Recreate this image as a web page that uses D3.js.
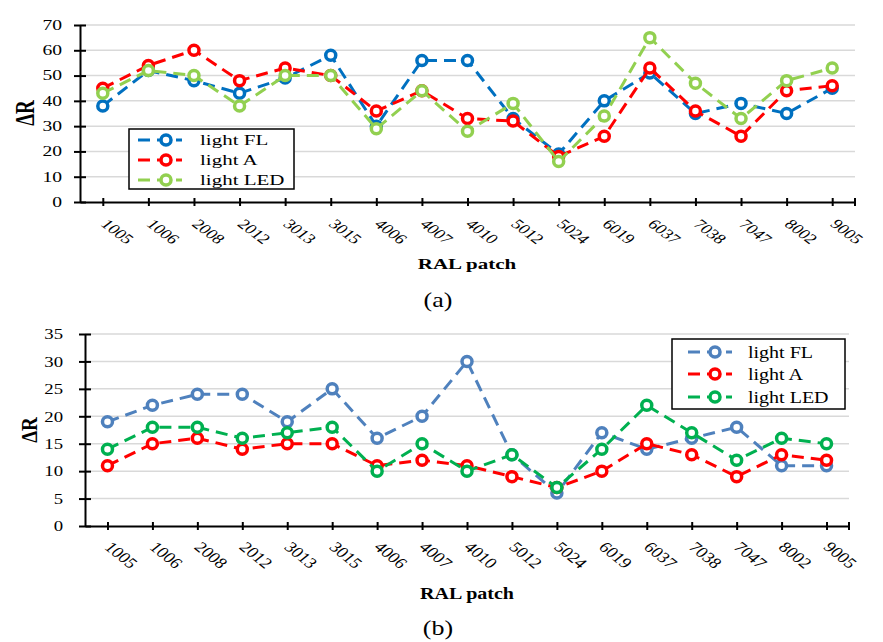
<!DOCTYPE html>
<html>
<head>
<meta charset="utf-8">
<script src="https://cdn.jsdelivr.net/npm/d3@7"></script>
<style>
  html, body { margin: 0; padding: 0; background: #fff; }
  svg { display: block; }
  text { font-family: "Liberation Serif", "Times New Roman", serif; fill: #000; }
</style>
</head>
<body>
<svg id="chart" width="883" height="642"></svg>
<script>
// ---------------- DATA ----------------
const categories = ["1005","1006","2008","2012","3013","3015","4006","4007","4010","5012","5024","6019","6037","7038","7047","8002","9005"];
const seriesNames = ["light FL", "light A", "light LED"];

// (a)
const topFL  = [38,52,48,43,49,58,30,56,56,33,19,40,51,35,39,35,45];
const topA   = [45,54,60,48,53,50,36,44,33,32,18,26,53,36,26,44,46];
const topLED = [43,52,50,38,50,50,29,44,28,39,16,34,65,47,33,48,53];
const topYTicks = [0,10,20,30,40,50,60,70];

// (b)
const bottomFL  = [19,22,24,24,19,25,16,20,30,13,6,17,14,16,18,11,11];
const bottomA   = [11,15,16,14,15,15,11,12,11,9,7,10,15,13,9,13,12];
const bottomLED = [14,18,18,16,17,18,10,15,10,13,7,14,22,17,12,16,15];
const bottomYTicks = [0,5,10,15,20,25,30,35];

const axisTitleX = "RAL patch";
const axisTitleY = "ΔR";

// ---------------- DRAW ----------------
const svg = d3.select("#chart");

function drawChart(cfg) {
  const g = svg.append("g");
  const x = d3.scalePoint().domain(categories).range([cfg.x0, cfg.x1]).padding(0.5);
  const y = d3.scaleLinear().domain([0, d3.max(cfg.yTicks)]).range([cfg.y0, cfg.y1]);
  const sx = cfg.stretch;

  // gridlines
  g.append("g").selectAll("line").data(cfg.yTicks.filter(d => d > 0)).join("line")
    .attr("x1", cfg.x0).attr("x2", cfg.x1)
    .attr("y1", d => y(d)).attr("y2", d => y(d))
    .attr("stroke", "#d9d9d9").attr("stroke-width", 1.5);

  // y axis via d3.axisLeft, then restyle
  const yAxis = g.append("g").attr("transform", `translate(${cfg.x0},0)`)
    .call(d3.axisLeft(y).tickValues(cfg.yTicks).tickSize(6).tickSizeOuter(0));
  yAxis.select(".domain").attr("stroke", "#000").attr("stroke-width", 2);
  yAxis.selectAll(".tick line").attr("stroke", "#000").attr("stroke-width", 2)
    .attr("x1", 6).attr("x2", -6);
  yAxis.selectAll(".tick text").remove();
  // y tick labels (stretched like the reference)
  g.append("g").selectAll("text").data(cfg.yTicks).join("text")
    .attr("transform", d => `translate(${cfg.yLabelX},${y(d)}) scale(${sx},1)`)
    .attr("text-anchor", "end").attr("dy", "0.35em")
    .style("font-size", cfg.tickFont + "px")
    .text(d => d);

  // x axis
  const xAxis = g.append("g").attr("transform", `translate(0,${cfg.y0})`)
    .call(d3.axisBottom(x).tickSize(4).tickSizeOuter(0));
  xAxis.select(".domain").attr("stroke", "#000").attr("stroke-width", 2);
  xAxis.selectAll(".tick line").attr("stroke", "#000").attr("stroke-width", 2)
    .attr("y1", -4).attr("y2", 4);
  xAxis.selectAll(".tick text").remove();
  xAxis.append("line").attr("x1", cfg.x1).attr("x2", cfg.x1).attr("y1", -4).attr("y2", 4)
    .attr("stroke", "#000").attr("stroke-width", 2);
  // rotated x labels
  g.append("g").selectAll("text").data(categories).join("text")
    .attr("transform", d => `translate(${x(d) + cfg.xLabelDx},${cfg.y0 + cfg.xLabelDy}) scale(${cfg.xStretch},1) rotate(45)`)
    .attr("text-anchor", "start")
    .style("font-size", cfg.xFont + "px")
    .text(d => d);

  // series
  const line = d3.line().x((d, i) => x(categories[i])).y(d => y(d));
  cfg.series.forEach((s, si) => {
    const sg = g.append("g");
    sg.append("path").datum(s.values)
      .attr("d", line).attr("fill", "none")
      .attr("stroke", s.color).attr("stroke-width", 3)
      .attr("stroke-dasharray", "12,7");
    sg.selectAll("circle").data(s.values).join("circle")
      .attr("cx", (d, i) => x(categories[i])).attr("cy", d => y(d))
      .attr("r", 5).attr("fill", "#fff")
      .attr("stroke", s.color).attr("stroke-width", 3.5);
  });

  // legend
  const L = cfg.legend;
  const lg = g.append("g");
  lg.append("rect").attr("x", L.x).attr("y", L.y).attr("width", L.w).attr("height", L.h)
    .attr("fill", "#fff").attr("stroke", "#000").attr("stroke-width", 1.5);
  cfg.series.forEach((s, i) => {
    const ry = L.rows[i];
    lg.append("line").attr("x1", L.lx1).attr("x2", L.lx2).attr("y1", ry).attr("y2", ry)
      .attr("stroke", s.color).attr("stroke-width", 3).attr("stroke-dasharray", "12,7");
    lg.append("circle").attr("cx", L.mx).attr("cy", ry).attr("r", 5)
      .attr("fill", "#fff").attr("stroke", s.color).attr("stroke-width", 3.5);
    lg.append("text").attr("transform", `translate(${L.tx},${ry}) scale(${sx},1)`)
      .attr("dy", "0.35em").style("font-size", cfg.legendFont + "px").text(s.name);
  });

  // axis titles
  g.append("text").attr("transform", `translate(${cfg.titleX},${cfg.titleXY}) scale(${sx},1)`)
    .attr("text-anchor", "middle").style("font-size", cfg.titleFont + "px").style("font-weight", "bold")
    .text(axisTitleX);
  g.append("text").attr("transform", `translate(${cfg.yTitleX},${cfg.yTitleY}) scale(${sx},1) rotate(-90)`)
    .attr("text-anchor", "middle").attr("dy", "0.35em")
    .style("font-size", "19px").style("font-weight", "bold")
    .text(axisTitleY);
  // panel caption
  g.append("text").attr("transform", `translate(${cfg.capX},${cfg.capY}) scale(1.3,1)`)
    .attr("text-anchor", "middle").style("font-size", "20px").text(cfg.caption);
}

drawChart({
  x0: 80, x1: 855, y0: 202, y1: 25,
  yTicks: topYTicks, stretch: 1.4, tickFont: 14, yLabelX: 62,
  xLabelDx: -3, xLabelDy: 23, xStretch: 1.33, xFont: 14,
  series: [
    { name: seriesNames[0], values: topFL,  color: "#0070c0" },
    { name: seriesNames[1], values: topA,   color: "#ff0000" },
    { name: seriesNames[2], values: topLED, color: "#92d050" }
  ],
  legend: { x: 129, y: 129, w: 165, h: 60, rows: [140, 160, 180], lx1: 138, lx2: 182, mx: 166, tx: 200 },
  legendFont: 15,
  titleX: 467, titleXY: 269, titleFont: 15,
  yTitleX: 25, yTitleY: 113,
  capX: 438, capY: 307, caption: "(a)"
});

drawChart({
  x0: 85, x1: 849, y0: 526, y1: 334,
  yTicks: bottomYTicks, stretch: 1.25, tickFont: 15, yLabelX: 63,
  xLabelDx: -4, xLabelDy: 22, xStretch: 1.25, xFont: 15,
  series: [
    { name: seriesNames[0], values: bottomFL,  color: "#4f81bd" },
    { name: seriesNames[1], values: bottomA,   color: "#ff0000" },
    { name: seriesNames[2], values: bottomLED, color: "#00b050" }
  ],
  legend: { x: 672, y: 339, w: 173, h: 70, rows: [352, 374, 397], lx1: 688, lx2: 732, mx: 715, tx: 748 },
  legendFont: 16,
  titleX: 467, titleXY: 599, titleFont: 16,
  yTitleX: 29, yTitleY: 430,
  capX: 438, capY: 635, caption: "(b)"
});
</script>
</body>
</html>
